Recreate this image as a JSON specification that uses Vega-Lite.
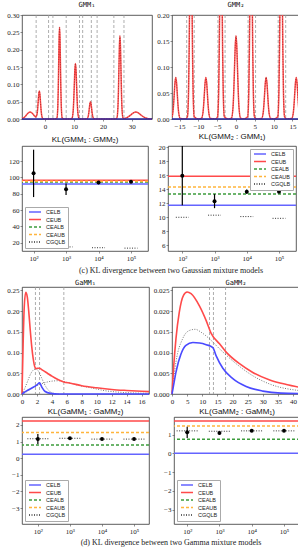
{
"$schema":"https://vega.github.io/schema/vega-lite/v6.json",
"padding":0,
"background":"white",
"config":{
 "view":{"stroke":"#333","strokeWidth":0.8},
 "axis":{"labelFont":"Liberation Serif","labelFontSize":7,"labelColor":"#222","domain":false,"grid":false,"ticks":true,"tickSize":2,"tickColor":"#444","tickWidth":0.6,"labelPadding":1,"labelOverlap":false,"labelFlush":false,"labelBound":false,"tickCount":30},
 "title":{"color":"#111","fontWeight":"normal","anchor":"middle","frame":"group"}
},
"resolve":{"scale":{"color":"independent","strokeDash":"independent"}},
"spacing":0,
"datasets":{
 "gmm1":[{"x":-8,"y":0.0013},{"x":-7.4,"y":0.0037},{"x":-6.8,"y":0.0082},{"x":-6.2,"y":0.0141},{"x":-5.7,"y":0.0183},{"x":-5.2,"y":0.02},{"x":-4.7,"y":0.0183},{"x":-4.2,"y":0.0141},{"x":-3.6,"y":0.0082},{"x":-3.2,"y":0.0059},{"x":-2.8,"y":0.0135},{"x":-2.6,"y":0.0279},{"x":-2.4,"y":0.0495},{"x":-2.2,"y":0.0713},{"x":-2.0,"y":0.0805},{"x":-1.8,"y":0.071},{"x":-1.6,"y":0.049},{"x":-1.4,"y":0.0265},{"x":-1.2,"y":0.0112},{"x":-0.8,"y":0.0012},{"x":-0.2,"y":0},{"x":3.5,"y":0},{"x":4.1,"y":0.003},{"x":4.4,"y":0.0359},{"x":4.55,"y":0.086},{"x":4.7,"y":0.1607},{"x":4.85,"y":0.2339},{"x":5,"y":0.265},{"x":5.15,"y":0.2339},{"x":5.3,"y":0.1607},{"x":5.45,"y":0.086},{"x":5.6,"y":0.0359},{"x":5.9,"y":0.003},{"x":6.5,"y":0},{"x":8.8,"y":0},{"x":9.3,"y":0.0018},{"x":9.7,"y":0.0216},{"x":9.9,"y":0.052},{"x":10.1,"y":0.097},{"x":10.3,"y":0.1412},{"x":10.5,"y":0.16},{"x":10.7,"y":0.1412},{"x":10.9,"y":0.097},{"x":11.1,"y":0.052},{"x":11.3,"y":0.0216},{"x":11.7,"y":0.0018},{"x":12.3,"y":0},{"x":14,"y":0},{"x":14.5,"y":0.0006},{"x":14.9,"y":0.0068},{"x":15.1,"y":0.0162},{"x":15.3,"y":0.0303},{"x":15.5,"y":0.0441},{"x":15.7,"y":0.05},{"x":15.9,"y":0.0441},{"x":16.1,"y":0.0303},{"x":16.3,"y":0.0162},{"x":16.5,"y":0.0068},{"x":16.9,"y":0.0006},{"x":17.5,"y":0},{"x":24.2,"y":0},{"x":24.85,"y":0.0027},{"x":25.2,"y":0.0325},{"x":25.375,"y":0.078},{"x":25.55,"y":0.1456},{"x":25.725,"y":0.2118},{"x":25.9,"y":0.24},{"x":26.075,"y":0.2118},{"x":26.25,"y":0.1456},{"x":26.425,"y":0.078},{"x":26.6,"y":0.0325},{"x":26.95,"y":0.0027},{"x":27.3,"y":0.0011},{"x":28.0,"y":0.0027},{"x":29.0,"y":0.0074},{"x":29.7,"y":0.0121},{"x":30.55,"y":0.0177},{"x":31.4,"y":0.02},{"x":32.25,"y":0.0177},{"x":33.1,"y":0.0121},{"x":33.95,"y":0.0065},{"x":34.8,"y":0.0027},{"x":35.65,"y":0.0009},{"x":37,"y":0.0002}],
 "gmm1v":[{"x":-3.1},{"x":1.2},{"x":2.7},{"x":7.3},{"x":11.9},{"x":13.0},{"x":16.0},{"x":18.0},{"x":23.8},{"x":27.3}],
 "gmm2":[{"x":-17,"y":0.0035},{"x":-16.8,"y":0.0108},{"x":-16.6,"y":0.026},{"x":-16.4,"y":0.0485},{"x":-16.2,"y":0.0706},{"x":-16,"y":0.08},{"x":-15.8,"y":0.0706},{"x":-15.6,"y":0.0485},{"x":-15.4,"y":0.026},{"x":-15.2,"y":0.0108},{"x":-14.8,"y":0.0009},{"x":-13.5,"y":0},{"x":-12.9,"y":0.0044},{"x":-12.6,"y":0.0541},{"x":-12.45,"y":0.1299},{"x":-12.3,"y":0.2426},{"x":-12.15,"y":0.353},{"x":-12,"y":0.4},{"x":-11.85,"y":0.353},{"x":-11.7,"y":0.2426},{"x":-11.55,"y":0.1299},{"x":-11.4,"y":0.0541},{"x":-11.1,"y":0.0044},{"x":-10,"y":0},{"x":-9.2,"y":0.0009},{"x":-8.8,"y":0.0108},{"x":-8.6,"y":0.026},{"x":-8.4,"y":0.0485},{"x":-8.2,"y":0.0706},{"x":-8,"y":0.08},{"x":-7.8,"y":0.0706},{"x":-7.6,"y":0.0485},{"x":-7.4,"y":0.026},{"x":-7.2,"y":0.0108},{"x":-6.8,"y":0.0009},{"x":-5.5,"y":0},{"x":-4.9,"y":0.0044},{"x":-4.6,"y":0.0541},{"x":-4.45,"y":0.1299},{"x":-4.3,"y":0.2426},{"x":-4.15,"y":0.353},{"x":-4,"y":0.4},{"x":-3.85,"y":0.353},{"x":-3.7,"y":0.2426},{"x":-3.55,"y":0.1299},{"x":-3.4,"y":0.0541},{"x":-3.1,"y":0.0044},{"x":-2,"y":0},{"x":-1.2,"y":0.0018},{"x":-0.8,"y":0.0216},{"x":-0.6,"y":0.052},{"x":-0.4,"y":0.097},{"x":-0.2,"y":0.1412},{"x":0,"y":0.16},{"x":0.2,"y":0.1412},{"x":0.4,"y":0.097},{"x":0.6,"y":0.052},{"x":0.8,"y":0.0216},{"x":1.2,"y":0.0018},{"x":2,"y":0},{"x":3.1,"y":0.0044},{"x":3.4,"y":0.0541},{"x":3.55,"y":0.1299},{"x":3.7,"y":0.2426},{"x":3.85,"y":0.353},{"x":4,"y":0.4},{"x":4.15,"y":0.353},{"x":4.3,"y":0.2426},{"x":4.45,"y":0.1299},{"x":4.6,"y":0.0541},{"x":4.9,"y":0.0044},{"x":5.5,"y":0},{"x":6.8,"y":0.0009},{"x":7.2,"y":0.0108},{"x":7.4,"y":0.026},{"x":7.6,"y":0.0485},{"x":7.8,"y":0.0706},{"x":8,"y":0.08},{"x":8.2,"y":0.0706},{"x":8.4,"y":0.0485},{"x":8.6,"y":0.026},{"x":8.8,"y":0.0108},{"x":9.2,"y":0.0009},{"x":10,"y":0},{"x":11.1,"y":0.0044},{"x":11.4,"y":0.0541},{"x":11.55,"y":0.1299},{"x":11.7,"y":0.2426},{"x":11.85,"y":0.353},{"x":12,"y":0.4},{"x":12.15,"y":0.353},{"x":12.3,"y":0.2426},{"x":12.45,"y":0.1299},{"x":12.6,"y":0.0541},{"x":12.9,"y":0.0044},{"x":13.5,"y":0},{"x":14.8,"y":0.0009},{"x":15.2,"y":0.0108},{"x":15.4,"y":0.026},{"x":15.6,"y":0.0485},{"x":15.8,"y":0.0706},{"x":16,"y":0.08},{"x":16.2,"y":0.0706},{"x":16.4,"y":0.0485},{"x":16.6,"y":0.026},{"x":16.8,"y":0.0108},{"x":17,"y":0.0035}],
 "gmm2v":[{"x":-13.1},{"x":-11.1},{"x":-4.8},{"x":-2.9},{"x":3.2},{"x":5.2},{"x":11.2},{"x":13.2}],
 "kl1b":[{"b":"CELB","y":92},{"b":"CEUB","y":96.6},{"b":"CEALB","y":94.3},{"b":"CEAUB","y":95.4}],
 "kl1c":[{"b":"CGQLB","lo":63,"hi":158,"y":15},{"b":"CGQLB","lo":631,"hi":1585,"y":15},{"b":"CGQLB","lo":6310,"hi":15850,"y":14},{"b":"CGQLB","lo":63100,"hi":158500,"y":13.5}],
 "kl1p":[{"n":100,"m":105,"lo":76,"hi":134},{"n":1000,"m":85.5,"lo":78.5,"hi":92.5},{"n":10000,"m":93.7,"lo":91.7,"hi":95.7},{"n":100000,"m":94.9,"lo":93.9,"hi":95.9}],
 "kl2b":[{"b":"CELB","y":11.73},{"b":"CEUB","y":15.85},{"b":"CEALB","y":13.3},{"b":"CEAUB","y":14.3}],
 "kl2c":[{"b":"CGQLB","lo":63,"hi":158,"y":10.0},{"b":"CGQLB","lo":631,"hi":1585,"y":10.3},{"b":"CGQLB","lo":6310,"hi":15850,"y":10.1},{"b":"CGQLB","lo":63100,"hi":158500,"y":9.85}],
 "kl2p":[{"n":100,"m":15.9,"lo":11.7,"hi":20.3},{"n":1000,"m":12.3,"lo":11.3,"hi":13.3},{"n":10000,"m":13.65,"lo":13.35,"hi":13.95},{"n":100000,"m":13.65,"lo":13.45,"hi":13.85}],
 "ga1r":[{"x":0,"y":0},{"x":0.15,"y":0.12},{"x":0.3,"y":0.21},{"x":0.5,"y":0.245},{"x":0.7,"y":0.235},{"x":0.9,"y":0.2},{"x":1.1,"y":0.155},{"x":1.3,"y":0.115},{"x":1.5,"y":0.085},{"x":1.7,"y":0.066},{"x":1.85,"y":0.061},{"x":2.05,"y":0.062},{"x":2.3,"y":0.062},{"x":2.8,"y":0.057},{"x":3.4,"y":0.05},{"x":4,"y":0.043},{"x":4.8,"y":0.035},{"x":5.6,"y":0.029},{"x":6.5,"y":0.026},{"x":8,"y":0.02},{"x":10,"y":0.015},{"x":12,"y":0.011},{"x":14,"y":0.0085},{"x":16,"y":0.0065},{"x":17,"y":0.0057}],
 "ga1b":[{"x":0,"y":0},{"x":0.67,"y":0.008},{"x":1.33,"y":0.0145},{"x":2,"y":0.022},{"x":2.35,"y":0.027},{"x":2.67,"y":0.016},{"x":3.1,"y":0.006},{"x":3.8,"y":0.0016},{"x":4.9,"y":0},{"x":17,"y":0}],
 "ga1d1":[{"x":0,"y":0},{"x":0.4,"y":0.015},{"x":0.8,"y":0.033},{"x":1.2,"y":0.05},{"x":1.6,"y":0.059},{"x":1.9,"y":0.061},{"x":2.2,"y":0.055},{"x":2.6,"y":0.04},{"x":3,"y":0.024},{"x":3.4,"y":0.012},{"x":3.8,"y":0.005},{"x":4.4,"y":0.001},{"x":5,"y":0}],
 "ga1d2":[{"x":0,"y":0},{"x":0.5,"y":0.004},{"x":1,"y":0.01},{"x":2,"y":0.02},{"x":3,"y":0.027},{"x":4,"y":0.031},{"x":4.9,"y":0.032},{"x":5.8,"y":0.029},{"x":6.7,"y":0.025},{"x":8,"y":0.019},{"x":8.9,"y":0.016},{"x":10,"y":0.012},{"x":11.1,"y":0.008},{"x":12,"y":0.006},{"x":13.3,"y":0.004},{"x":15,"y":0.0025},{"x":17,"y":0.0015}],
 "ga1v":[{"x":1.8},{"x":2.35},{"x":5.6}],
 "ga2r":[{"x":0,"y":0},{"x":0.5,"y":0.006},{"x":1.3,"y":0.0133},{"x":2.4,"y":0.0197},{"x":3.8,"y":0.0238},{"x":5,"y":0.0246},{"x":6.3,"y":0.0242},{"x":9.1,"y":0.0212},{"x":11.3,"y":0.0177},{"x":12.9,"y":0.0147},{"x":15.7,"y":0.0121},{"x":17.9,"y":0.0101},{"x":22.3,"y":0.0073},{"x":26.7,"y":0.0052},{"x":32.3,"y":0.0034},{"x":37.8,"y":0.0023},{"x":42.3,"y":0.0016}],
 "ga2d":[{"x":0,"y":0},{"x":0.6,"y":0.004},{"x":1.3,"y":0.0077},{"x":3.5,"y":0.0133},{"x":5.7,"y":0.0153},{"x":7.7,"y":0.0156},{"x":9.6,"y":0.0149},{"x":12.4,"y":0.0133},{"x":15.7,"y":0.0109},{"x":21.2,"y":0.0073},{"x":26.7,"y":0.0044},{"x":32.3,"y":0.0024},{"x":42.3,"y":0.0008}],
 "ga2b":[{"x":0,"y":0},{"x":0.5,"y":0.002},{"x":1.3,"y":0.0052},{"x":3,"y":0.0097},{"x":4.6,"y":0.0117},{"x":6.9,"y":0.0124},{"x":9.1,"y":0.0123},{"x":11.3,"y":0.0119},{"x":13.5,"y":0.0112},{"x":14.6,"y":0.0092},{"x":16.8,"y":0.0062},{"x":20.1,"y":0.0037},{"x":24.5,"y":0.0018},{"x":30,"y":0.0007},{"x":36,"y":0.0002},{"x":42.3,"y":0.0001}],
 "ga2v":[{"x":12.4},{"x":13.7},{"x":17.7}],
 "kl3b":[{"b":"CELB","y":0.24},{"b":"CEUB","y":2.24},{"b":"CEALB","y":0.8},{"b":"CEAUB","y":1.54}],
 "kl3c":[{"b":"CGQLB","lo":47,"hi":214,"y":1.17},{"b":"CGQLB","lo":468,"hi":2138,"y":1.2},{"b":"CGQLB","lo":4677,"hi":21380,"y":1.15},{"b":"CGQLB","lo":46770,"hi":213800,"y":1.15}],
 "kl3p":[{"n":100,"m":1.15,"lo":0.85,"hi":1.45},{"n":1000,"m":1.2,"lo":1.14,"hi":1.26},{"n":10000,"m":1.15,"lo":1.12,"hi":1.18},{"n":100000,"m":1.15,"lo":1.12,"hi":1.18}],
 "kl4b":[{"b":"CELB","y":0},{"b":"CEUB","y":1.72},{"b":"CEALB","y":0.75},{"b":"CEAUB","y":1.46}],
 "kl4c":[{"b":"CGQLB","lo":47,"hi":214,"y":1.2},{"b":"CGQLB","lo":468,"hi":2138,"y":1.18},{"b":"CGQLB","lo":4677,"hi":21380,"y":1.2},{"b":"CGQLB","lo":46770,"hi":213800,"y":1.2}],
 "kl4p":[{"n":100,"m":1.12,"lo":0.82,"hi":1.42},{"n":1000,"m":1.08,"lo":1.0,"hi":1.16},{"n":10000,"m":1.2,"lo":1.15,"hi":1.25},{"n":100000,"m":1.2,"lo":1.16,"hi":1.24}]
},
"vconcat":[
 {"spacing":20,"bounds":"flush","resolve":{"scale":{"color":"independent","strokeDash":"independent"}},"hconcat":[
  {"width":130,"height":104,"title":{"text":"GMM₁","font":"DejaVu Sans Mono","fontSize":7,"offset":3},
   "layer":[
    {"data":{"name":"gmm1v"},"mark":{"type":"rule","color":"#999","strokeDash":[3,2],"strokeWidth":0.8},
     "encoding":{"x":{"field":"x","type":"quantitative","title":null,"scale":{"domain":[-8,37],"nice":false,"zero":false},"axis":{"values":[0,10,20,30],"format":"d","minExtent":12,"labelOverlap":false,"tickCount":30}}}},
    {"data":{"name":"gmm1"},"mark":{"type":"line","color":"#ff5050","strokeWidth":1.5,"interpolate":"monotone"},
     "encoding":{"x":{"field":"x","type":"quantitative","title":null,"scale":{"domain":[-8,37],"nice":false,"zero":false}},
      "y":{"field":"y","type":"quantitative","title":null,"scale":{"domain":[0,0.3],"nice":false,"zero":false},"axis":{"values":[0,0.05,0.1,0.15,0.2,0.25,0.3],"format":".2f","minExtent":17,"labelOverlap":false,"tickCount":30}}}},
    {"data":{"name":"gmm1"},"mark":{"type":"line","color":"#902020","strokeWidth":0.7,"strokeDash":[1,1.5],"interpolate":"monotone"},
     "encoding":{"x":{"field":"x","type":"quantitative","title":null,"scale":{"domain":[-8,37],"nice":false,"zero":false}},
      "y":{"field":"y","type":"quantitative","title":null,"scale":{"domain":[0,0.3],"nice":false,"zero":false}}}},
    {"data":{"values":[{"x":-8,"y":0},{"x":37,"y":0}]},"mark":{"type":"line","color":"#2828a0","strokeWidth":1.3},
     "encoding":{"x":{"field":"x","type":"quantitative","title":null,"scale":{"domain":[-8,37],"nice":false,"zero":false}},
      "y":{"field":"y","type":"quantitative","title":null,"scale":{"domain":[0,0.3],"nice":false,"zero":false}}}}
   ]},
  {"width":128,"height":104,"title":{"text":"GMM₂","font":"DejaVu Sans Mono","fontSize":7,"offset":3},
   "layer":[
    {"data":{"name":"gmm2v"},"mark":{"type":"rule","color":"#999","strokeDash":[3,2],"strokeWidth":0.8},
     "encoding":{"x":{"field":"x","type":"quantitative","title":null,"scale":{"domain":[-17,17],"nice":false,"zero":false},"axis":{"values":[-15,-10,-5,0,5,10,15],"format":"d","minExtent":12,"labelOverlap":false,"tickCount":30}}}},
    {"data":{"name":"gmm2"},"mark":{"type":"line","color":"#ff5050","strokeWidth":1.5,"interpolate":"monotone","clip":true},
     "encoding":{"x":{"field":"x","type":"quantitative","title":null,"scale":{"domain":[-17,17],"nice":false,"zero":false}},
      "y":{"field":"y","type":"quantitative","title":null,"scale":{"domain":[0,0.2],"nice":false,"zero":false},"axis":{"values":[0,0.05,0.1,0.15,0.2],"format":".2f","minExtent":17,"labelOverlap":false,"tickCount":30}}}},
    {"data":{"name":"gmm2"},"mark":{"type":"line","color":"#902020","strokeWidth":0.7,"strokeDash":[1,1.5],"interpolate":"monotone","clip":true},
     "encoding":{"x":{"field":"x","type":"quantitative","title":null,"scale":{"domain":[-17,17],"nice":false,"zero":false}},
      "y":{"field":"y","type":"quantitative","title":null,"scale":{"domain":[0,0.2],"nice":false,"zero":false}}}},
    {"data":{"values":[{"x":-17,"y":0},{"x":17,"y":0}]},"mark":{"type":"line","color":"#2828a0","strokeWidth":1.3},
     "encoding":{"x":{"field":"x","type":"quantitative","title":null,"scale":{"domain":[-17,17],"nice":false,"zero":false}},
      "y":{"field":"y","type":"quantitative","title":null,"scale":{"domain":[0,0.2],"nice":false,"zero":false}}}}
   ]}
 ]},
 {"spacing":20,"bounds":"flush","resolve":{"scale":{"color":"independent","strokeDash":"independent"}},"hconcat":[
  {"width":126,"height":105,"title":{"text":"KL(GMM₁ : GMM₂)","font":"Liberation Sans","fontSize":8,"offset":2},
   "layer":[
    {"data":{"name":"kl1b"},"mark":{"type":"rule","strokeWidth":1.5},
     "encoding":{"y":{"field":"y","type":"quantitative","title":null,"scale":{"domain":[10,138.5],"nice":false,"zero":false},"axis":{"values":[20,40,60,80,100,120],"format":"d","minExtent":21,"labelOverlap":false,"tickCount":30}},
      "color":{"field":"b","type":"nominal","scale":{"domain":["CELB","CEUB","CEALB","CEAUB","CGQLB"],"range":["#6464ff","#ff4a4a","#3c9c3c","#ffb53c","#333333"]},"legend":{"orient":"bottom-left","title":null,"offset":3,"padding":2,"fillColor":"white","strokeColor":"#aaa","labelFont":"Liberation Sans","labelFontSize":5.5,"labelColor":"#222","symbolType":"M-3,0H3","symbolSize":16,"symbolStrokeWidth":1.4,"rowPadding":0.5,"symbolOffset":5,"labelOffset":8}},
      "strokeDash":{"field":"b","type":"nominal","scale":{"domain":["CELB","CEUB","CEALB","CEAUB","CGQLB"],"range":[[1,0],[1,0],[3,2],[3,2],[1,1.5]]},"legend":{"orient":"bottom-left","title":null,"offset":3,"padding":2,"fillColor":"white","strokeColor":"#aaa","labelFont":"Liberation Sans","labelFontSize":5.5,"labelColor":"#222","symbolType":"M-3,0H3","symbolSize":16,"symbolStrokeWidth":1.4,"rowPadding":0.5,"symbolOffset":5,"labelOffset":8}}}},
    {"data":{"name":"kl1c"},"mark":{"type":"rule","strokeWidth":1},
     "encoding":{"x":{"field":"lo","type":"quantitative","title":null,"scale":{"type":"log","domain":[44,334000],"nice":false},"axis":{"values":[100,1000,10000,100000],"labelExpr":"'10' + (datum.value < 500 ? '²' : datum.value < 5000 ? '³' : datum.value < 50000 ? '⁴' : '⁵')","minExtent":12,"labelOverlap":false,"tickCount":30}},
      "x2":{"field":"hi"},
      "y":{"field":"y","type":"quantitative","title":null,"scale":{"domain":[10,138.5],"nice":false,"zero":false}},
      "color":{"field":"b","type":"nominal"},"strokeDash":{"field":"b","type":"nominal"}}},
    {"data":{"name":"kl1p"},"mark":{"type":"rule","color":"black","strokeWidth":1.2,"clip":true},
     "encoding":{"x":{"field":"n","type":"quantitative","title":null,"scale":{"type":"log","domain":[44,334000],"nice":false}},
      "y":{"field":"lo","type":"quantitative","title":null,"scale":{"domain":[10,138.5],"nice":false,"zero":false}},"y2":{"field":"hi"}}},
    {"data":{"name":"kl1p"},"mark":{"type":"point","filled":true,"color":"black","size":16,"opacity":1},
     "encoding":{"x":{"field":"n","type":"quantitative","title":null,"scale":{"type":"log","domain":[44,334000],"nice":false}},
      "y":{"field":"m","type":"quantitative","title":null,"scale":{"domain":[10,138.5],"nice":false,"zero":false}}}}
   ]},
  {"width":128,"height":105,"title":{"text":"KL(GMM₂ : GMM₁)","font":"Liberation Sans","fontSize":8,"offset":2},
   "layer":[
    {"data":{"name":"kl2b"},"mark":{"type":"rule","strokeWidth":1.5},
     "encoding":{"y":{"field":"y","type":"quantitative","title":null,"scale":{"domain":[5.2,20.15],"nice":false,"zero":false},"axis":{"values":[6,8,10,12,14,16,18,20],"format":"d","minExtent":17,"labelOverlap":false,"tickCount":30}},
      "color":{"field":"b","type":"nominal","scale":{"domain":["CELB","CEUB","CEALB","CEAUB","CGQLB"],"range":["#6464ff","#ff4a4a","#3c9c3c","#ffb53c","#333333"]},"legend":{"orient":"top-right","title":null,"offset":3,"padding":2,"fillColor":"white","strokeColor":"#aaa","labelFont":"Liberation Sans","labelFontSize":5.5,"labelColor":"#222","symbolType":"M-3,0H3","symbolSize":16,"symbolStrokeWidth":1.4,"rowPadding":0.5,"symbolOffset":5,"labelOffset":8}},
      "strokeDash":{"field":"b","type":"nominal","scale":{"domain":["CELB","CEUB","CEALB","CEAUB","CGQLB"],"range":[[1,0],[1,0],[3,2],[3,2],[1,1.5]]},"legend":{"orient":"top-right","title":null,"offset":3,"padding":2,"fillColor":"white","strokeColor":"#aaa","labelFont":"Liberation Sans","labelFontSize":5.5,"labelColor":"#222","symbolType":"M-3,0H3","symbolSize":16,"symbolStrokeWidth":1.4,"rowPadding":0.5,"symbolOffset":5,"labelOffset":8}}}},
    {"data":{"name":"kl2c"},"mark":{"type":"rule","strokeWidth":1},
     "encoding":{"x":{"field":"lo","type":"quantitative","title":null,"scale":{"type":"log","domain":[36,337000],"nice":false},"axis":{"values":[100,1000,10000,100000],"labelExpr":"'10' + (datum.value < 500 ? '²' : datum.value < 5000 ? '³' : datum.value < 50000 ? '⁴' : '⁵')","minExtent":12,"labelOverlap":false,"tickCount":30}},
      "x2":{"field":"hi"},
      "y":{"field":"y","type":"quantitative","title":null,"scale":{"domain":[5.2,20.15],"nice":false,"zero":false}},
      "color":{"field":"b","type":"nominal"},"strokeDash":{"field":"b","type":"nominal"}}},
    {"data":{"name":"kl2p"},"mark":{"type":"rule","color":"black","strokeWidth":1.2,"clip":true},
     "encoding":{"x":{"field":"n","type":"quantitative","title":null,"scale":{"type":"log","domain":[36,337000],"nice":false}},
      "y":{"field":"lo","type":"quantitative","title":null,"scale":{"domain":[5.2,20.15],"nice":false,"zero":false}},"y2":{"field":"hi"}}},
    {"data":{"name":"kl2p"},"mark":{"type":"point","filled":true,"color":"black","size":16,"opacity":1},
     "encoding":{"x":{"field":"n","type":"quantitative","title":null,"scale":{"type":"log","domain":[36,337000],"nice":false}},
      "y":{"field":"m","type":"quantitative","title":null,"scale":{"domain":[5.2,20.15],"nice":false,"zero":false}}}}
   ]}
 ]},
 {"width":298,"height":14,"view":{"stroke":null},"data":{"values":[{"t":"(c) KL divergence between two Gaussian mixture models"}]},
  "mark":{"type":"text","font":"Liberation Serif","fontSize":8,"color":"#222"},"encoding":{"text":{"field":"t"}}},
 {"spacing":23,"bounds":"flush","resolve":{"scale":{"color":"independent","strokeDash":"independent"}},"hconcat":[
  {"width":127,"height":107,"title":{"text":"GaMM₁","font":"DejaVu Sans Mono","fontSize":7,"offset":0.5},
   "layer":[
    {"data":{"name":"ga1v"},"mark":{"type":"rule","color":"#999","strokeDash":[3,2],"strokeWidth":0.8},
     "encoding":{"x":{"field":"x","type":"quantitative","title":null,"scale":{"domain":[0,17],"nice":false,"zero":false},"axis":{"values":[0,2,4,6,8,10,12,14,16],"format":"d","minExtent":12,"labelOverlap":false,"tickCount":30}}}},
    {"data":{"name":"ga1d1"},"mark":{"type":"line","color":"#555","strokeWidth":0.8,"strokeDash":[1,1.5],"interpolate":"monotone"},
     "encoding":{"x":{"field":"x","type":"quantitative","title":null,"scale":{"domain":[0,17],"nice":false,"zero":false}},
      "y":{"field":"y","type":"quantitative","title":null,"scale":{"domain":[0,0.258],"nice":false,"zero":false},"axis":{"values":[0,0.05,0.1,0.15,0.2,0.25],"format":".2f","minExtent":17,"labelOverlap":false,"tickCount":30}}}},
    {"data":{"name":"ga1d2"},"mark":{"type":"line","color":"#555","strokeWidth":0.8,"strokeDash":[1,1.5],"interpolate":"monotone"},
     "encoding":{"x":{"field":"x","type":"quantitative","title":null,"scale":{"domain":[0,17],"nice":false,"zero":false}},
      "y":{"field":"y","type":"quantitative","title":null,"scale":{"domain":[0,0.258],"nice":false,"zero":false}}}},
    {"data":{"name":"ga1r"},"mark":{"type":"line","color":"#ff4a4a","strokeWidth":1.6,"interpolate":"monotone"},
     "encoding":{"x":{"field":"x","type":"quantitative","title":null,"scale":{"domain":[0,17],"nice":false,"zero":false}},
      "y":{"field":"y","type":"quantitative","title":null,"scale":{"domain":[0,0.258],"nice":false,"zero":false}}}},
    {"data":{"name":"ga1b"},"mark":{"type":"line","color":"#4a4aff","strokeWidth":1.6,"interpolate":"monotone"},
     "encoding":{"x":{"field":"x","type":"quantitative","title":null,"scale":{"domain":[0,17],"nice":false,"zero":false}},
      "y":{"field":"y","type":"quantitative","title":null,"scale":{"domain":[0,0.258],"nice":false,"zero":false}}}}
   ]},
  {"width":128,"height":107,"title":{"text":"GaMM₂","font":"DejaVu Sans Mono","fontSize":7,"offset":0.5},
   "layer":[
    {"data":{"name":"ga2v"},"mark":{"type":"rule","color":"#999","strokeDash":[3,2],"strokeWidth":0.8},
     "encoding":{"x":{"field":"x","type":"quantitative","title":null,"scale":{"domain":[0,42.3],"nice":false,"zero":false},"axis":{"values":[0,5,10,15,20,25,30,35,40],"format":"d","minExtent":12,"labelOverlap":false,"tickCount":30}}}},
    {"data":{"name":"ga2d"},"mark":{"type":"line","color":"#555","strokeWidth":0.8,"strokeDash":[1,1.5],"interpolate":"monotone"},
     "encoding":{"x":{"field":"x","type":"quantitative","title":null,"scale":{"domain":[0,42.3],"nice":false,"zero":false}},
      "y":{"field":"y","type":"quantitative","title":null,"scale":{"domain":[0,0.0258],"nice":false,"zero":false},"axis":{"values":[0,0.005,0.01,0.015,0.02,0.025],"format":".3f","minExtent":17,"labelOverlap":false,"tickCount":30}}}},
    {"data":{"name":"ga2r"},"mark":{"type":"line","color":"#ff4a4a","strokeWidth":1.6,"interpolate":"monotone"},
     "encoding":{"x":{"field":"x","type":"quantitative","title":null,"scale":{"domain":[0,42.3],"nice":false,"zero":false}},
      "y":{"field":"y","type":"quantitative","title":null,"scale":{"domain":[0,0.0258],"nice":false,"zero":false}}}},
    {"data":{"name":"ga2b"},"mark":{"type":"line","color":"#4a4aff","strokeWidth":1.6,"interpolate":"monotone"},
     "encoding":{"x":{"field":"x","type":"quantitative","title":null,"scale":{"domain":[0,42.3],"nice":false,"zero":false}},
      "y":{"field":"y","type":"quantitative","title":null,"scale":{"domain":[0,0.0258],"nice":false,"zero":false}}}}
   ]}
 ]},
 {"spacing":25,"bounds":"flush","resolve":{"scale":{"color":"independent","strokeDash":"independent"}},"hconcat":[
  {"width":127,"height":107,"title":{"text":"KL(GaMM₁ : GaMM₂)","font":"Liberation Sans","fontSize":8,"offset":1},
   "layer":[
    {"data":{"name":"kl3b"},"mark":{"type":"rule","strokeWidth":1.5},
     "encoding":{"y":{"field":"y","type":"quantitative","title":null,"scale":{"domain":[-3.96,2.48],"nice":false,"zero":false},"axis":{"values":[-3,-2,-1,0,1,2],"format":"d","minExtent":17,"labelOverlap":false,"tickCount":30}},
      "color":{"field":"b","type":"nominal","scale":{"domain":["CELB","CEUB","CEALB","CEAUB","CGQLB"],"range":["#6464ff","#ff4a4a","#3c9c3c","#ffb53c","#333333"]},"legend":{"orient":"bottom-left","title":null,"offset":3,"padding":2,"fillColor":"white","strokeColor":"#aaa","labelFont":"Liberation Sans","labelFontSize":5.5,"labelColor":"#222","symbolType":"M-3,0H3","symbolSize":16,"symbolStrokeWidth":1.4,"rowPadding":0.5,"symbolOffset":5,"labelOffset":8}},
      "strokeDash":{"field":"b","type":"nominal","scale":{"domain":["CELB","CEUB","CEALB","CEAUB","CGQLB"],"range":[[1,0],[1,0],[3,2],[3,2],[1,1.5]]},"legend":{"orient":"bottom-left","title":null,"offset":3,"padding":2,"fillColor":"white","strokeColor":"#aaa","labelFont":"Liberation Sans","labelFontSize":5.5,"labelColor":"#222","symbolType":"M-3,0H3","symbolSize":16,"symbolStrokeWidth":1.4,"rowPadding":0.5,"symbolOffset":5,"labelOffset":8}}}},
    {"data":{"name":"kl3c"},"mark":{"type":"rule","strokeWidth":1},
     "encoding":{"x":{"field":"lo","type":"quantitative","title":null,"scale":{"type":"log","domain":[32,293000],"nice":false},"axis":{"values":[100,1000,10000,100000],"labelExpr":"'10' + (datum.value < 500 ? '²' : datum.value < 5000 ? '³' : datum.value < 50000 ? '⁴' : '⁵')","minExtent":12,"labelOverlap":false,"tickCount":30}},
      "x2":{"field":"hi"},
      "y":{"field":"y","type":"quantitative","title":null,"scale":{"domain":[-3.96,2.48],"nice":false,"zero":false}},
      "color":{"field":"b","type":"nominal"},"strokeDash":{"field":"b","type":"nominal"}}},
    {"data":{"name":"kl3p"},"mark":{"type":"rule","color":"black","strokeWidth":1.2,"clip":true},
     "encoding":{"x":{"field":"n","type":"quantitative","title":null,"scale":{"type":"log","domain":[32,293000],"nice":false}},
      "y":{"field":"lo","type":"quantitative","title":null,"scale":{"domain":[-3.96,2.48],"nice":false,"zero":false}},"y2":{"field":"hi"}}},
    {"data":{"name":"kl3p"},"mark":{"type":"point","filled":true,"color":"black","size":16,"opacity":1},
     "encoding":{"x":{"field":"n","type":"quantitative","title":null,"scale":{"type":"log","domain":[32,293000],"nice":false}},
      "y":{"field":"m","type":"quantitative","title":null,"scale":{"domain":[-3.96,2.48],"nice":false,"zero":false}}}}
   ]},
  {"width":126,"height":107,"title":{"text":"KL(GaMM₂ : GaMM₁)","font":"Liberation Sans","fontSize":8,"offset":1},
   "layer":[
    {"data":{"name":"kl4b"},"mark":{"type":"rule","strokeWidth":1.5},
     "encoding":{"y":{"field":"y","type":"quantitative","title":null,"scale":{"domain":[-3.77,1.94],"nice":false,"zero":false},"axis":{"values":[-3,-2,-1,0,1],"format":"d","minExtent":17,"labelOverlap":false,"tickCount":30}},
      "color":{"field":"b","type":"nominal","scale":{"domain":["CELB","CEUB","CEALB","CEAUB","CGQLB"],"range":["#6464ff","#ff4a4a","#3c9c3c","#ffb53c","#333333"]},"legend":{"orient":"bottom-left","title":null,"offset":3,"padding":2,"fillColor":"white","strokeColor":"#aaa","labelFont":"Liberation Sans","labelFontSize":5.5,"labelColor":"#222","symbolType":"M-3,0H3","symbolSize":16,"symbolStrokeWidth":1.4,"rowPadding":0.5,"symbolOffset":5,"labelOffset":8}},
      "strokeDash":{"field":"b","type":"nominal","scale":{"domain":["CELB","CEUB","CEALB","CEAUB","CGQLB"],"range":[[1,0],[1,0],[3,2],[3,2],[1,1.5]]},"legend":{"orient":"bottom-left","title":null,"offset":3,"padding":2,"fillColor":"white","strokeColor":"#aaa","labelFont":"Liberation Sans","labelFontSize":5.5,"labelColor":"#222","symbolType":"M-3,0H3","symbolSize":16,"symbolStrokeWidth":1.4,"rowPadding":0.5,"symbolOffset":5,"labelOffset":8}}}},
    {"data":{"name":"kl4c"},"mark":{"type":"rule","strokeWidth":1},
     "encoding":{"x":{"field":"lo","type":"quantitative","title":null,"scale":{"type":"log","domain":[39,313000],"nice":false},"axis":{"values":[100,1000,10000,100000],"labelExpr":"'10' + (datum.value < 500 ? '²' : datum.value < 5000 ? '³' : datum.value < 50000 ? '⁴' : '⁵')","minExtent":12,"labelOverlap":false,"tickCount":30}},
      "x2":{"field":"hi"},
      "y":{"field":"y","type":"quantitative","title":null,"scale":{"domain":[-3.77,1.94],"nice":false,"zero":false}},
      "color":{"field":"b","type":"nominal"},"strokeDash":{"field":"b","type":"nominal"}}},
    {"data":{"name":"kl4p"},"mark":{"type":"rule","color":"black","strokeWidth":1.2,"clip":true},
     "encoding":{"x":{"field":"n","type":"quantitative","title":null,"scale":{"type":"log","domain":[39,313000],"nice":false}},
      "y":{"field":"lo","type":"quantitative","title":null,"scale":{"domain":[-3.77,1.94],"nice":false,"zero":false}},"y2":{"field":"hi"}}},
    {"data":{"name":"kl4p"},"mark":{"type":"point","filled":true,"color":"black","size":16,"opacity":1},
     "encoding":{"x":{"field":"n","type":"quantitative","title":null,"scale":{"type":"log","domain":[39,313000],"nice":false}},
      "y":{"field":"m","type":"quantitative","title":null,"scale":{"domain":[-3.77,1.94],"nice":false,"zero":false}}}}
   ]}
 ]},
 {"width":298,"height":12,"view":{"stroke":null},"data":{"values":[{"t":"(d) KL divergence between two Gamma mixture models"}]},
  "mark":{"type":"text","font":"Liberation Serif","fontSize":8,"color":"#222"},"encoding":{"text":{"field":"t"}}}
]
}
